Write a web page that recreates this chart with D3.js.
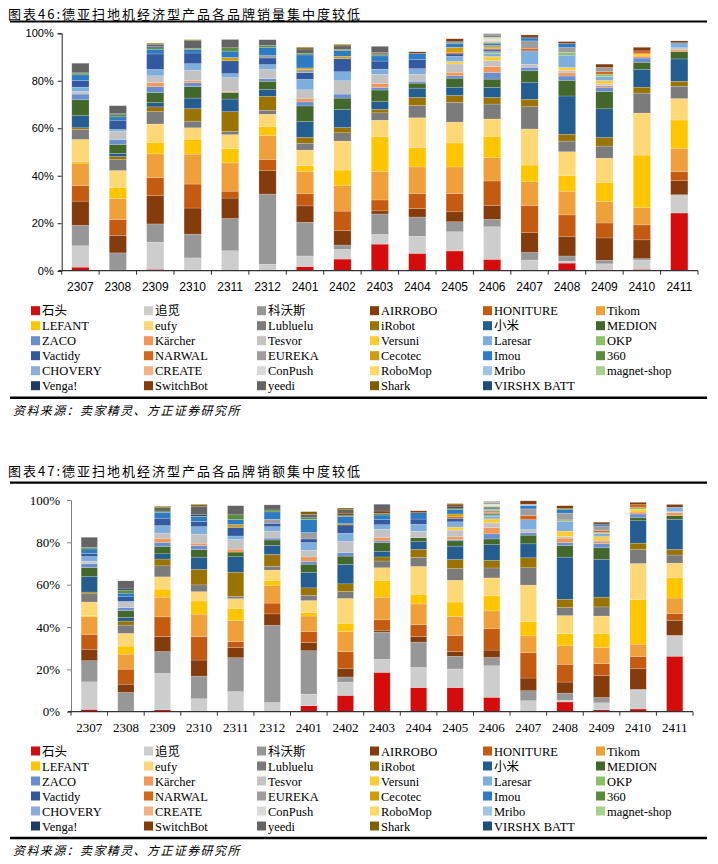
<!DOCTYPE html>
<html><head><meta charset="utf-8">
<script src="https://cdn.jsdelivr.net/npm/d3@7/dist/d3.min.js"></script>
<style>
html,body{margin:0;padding:0;background:#fff;}
svg{display:block;}
</style></head>
<body>
<svg id="c" width="718" height="864"></svg>
<script>
const categories = ["2307","2308","2309","2310","2311","2312","2401","2402","2403","2404","2405","2406","2407","2408","2409","2410","2411"];
const brands = ["石头","追觅","科沃斯","AIRROBO","HONITURE","Tikom","LEFANT","eufy","Lubluelu","iRobot","小米","MEDION","ZACO","Kärcher","Tesvor","Versuni","Laresar","OKP","Vactidy","NARWAL","EUREKA","Cecotec","Imou","360","CHOVERY","CREATE","ConPush","RoboMop","Mribo","magnet-shop","Venga!","SwitchBot","yeedi","Shark","VIRSHX BATT"];
const colors = ["#d40c0c","#cdcdcd","#979797","#843c0c","#c55a11","#f0a03a","#ffc600","#ffd876","#7b7b7b","#9a7300","#245d90","#43682b","#6a8fd0","#f1975a","#c3c3c3","#ffcd33","#7daedd","#8cc168","#335aa1","#d5651a","#9e9e9e","#cf9d08","#2e7bc4","#5a8c3c","#8faadc","#f4b183","#d9d9d9","#ffd966","#9dc3e6","#a9d18e","#203864","#843c0c","#646464","#7f6000","#1f4e79"];
const yTicks = [0,20,40,60,80,100];

// 销量 share (%) per month, in brand order
const vol2307 = [1.5,9.0,8.6,10.2,6.6,9.4,0.7,9.3,4.2,0.7,5.1,6.7,2.4,0,1.1,0,1.8,0,2.8,0,0,0,2.4,0.7,0,0,0,0,0,0,0.4,0,3.8,0,0];
const vol2308 = [0.3,0,7.2,7.4,6.7,8.8,4.6,7.2,4.6,1.3,1.3,3.8,2.1,0,3.5,0,0.7,0,3.9,0,0,0,1.4,1.0,0,0,0,0,0,0,0.5,0,3.2,0,0];
const vol2309 = [0.6,11.4,7.7,11.9,7.6,10.0,4.9,7.7,5.2,2.0,1.8,4.2,2.5,1.7,2.9,0,2.7,0,6.5,0,0,0,2.0,0.6,0,0,0,0,0,0,0.5,0,1.0,0.4,0];
const vol2310 = [0.3,5.1,10.0,11.0,10.1,12.6,6.3,4.8,2.8,5.3,4.4,4.8,1.7,0.8,4.5,0,2.7,0,4.5,0,0,0,1.4,0.6,0,0,0,0,0,0,0,0,3.2,0.4,0];
const vol2311 = [0,8.4,13.6,8.6,2.9,11.9,6.0,5.9,1.3,8.4,5.3,2.8,0,0.4,5.8,0,1.7,0,5.4,0,0,1.4,2.7,1.4,0,0,0,0,0,0,0,0,3.5,0,0];
const vol2312 = [0,2.7,29.6,9.8,4.8,10.1,3.6,5.3,1.7,5.9,2.8,3.5,1.1,0,3.8,0,2.1,0,2.8,0,1.0,0,3.5,0.8,0,0,0,0,0,0,0,0,2.4,0,0];
const vol2401 = [1.7,4.5,14.2,6.9,5.1,9.3,2.5,6.6,2.9,2.5,6.6,6.6,1.7,1.3,3.8,0,4.4,0,2.8,0,1.3,0.7,5.5,0.7,0,0,0,0,0,0,0,0,1.8,0.7,0];
const vol2402 = [4.9,4.1,1.8,6.2,8.1,10.7,6.6,12.2,3.5,2.2,7.6,4.8,1.7,0,5.6,0,3.8,0,5.5,0,0,1.0,2.4,0.5,0,0,0,0,0,0,0,0,1.5,0.6,0];
const vol2403 = [11.2,4.1,8.6,1.3,4.6,12.1,14.5,7.0,3.1,1.5,3.2,4.9,1.1,1.7,3.8,0,2.2,0,3.4,0,0,0,2.2,0.6,0,0,0,0,0,0,0.5,0.4,2.5,0,0];
const vol2404 = [7.3,7.2,8.1,3.6,6.3,11.2,8.1,12.6,5.2,3.4,3.9,2.1,0.8,0,2.9,0,2.4,0,3.8,0,0,0,2.7,0,0,0,0,0,0,0,0,0.6,0,0,0];
const vol2405 = [8.3,8.1,4.2,4.2,7.7,11.2,10.1,8.8,8.3,2.9,3.5,3.8,1.0,1.5,3.5,1.0,2.2,0,1.0,0.7,0,2.1,1.7,0.4,0,0,0,0,0,0,0.4,1.1,0,0,0];
const vol2406 = [4.8,13.7,3.1,5.8,10.4,9.8,9.0,7.3,6.3,2.8,4.2,3.5,2.8,2.5,2.5,1.7,1.4,0.7,0.7,0.5,0.7,0.7,0.7,0.5,0.4,0.4,0.4,0.4,0.4,0.3,0.4,0.3,0.2,0.2,0.3];
const vol2407 = [0,4.5,3.2,8.3,11.5,10.0,7.0,15.2,9.4,3.1,7.2,4.8,1.5,0,1.3,0,5.6,0,0,1.1,3.1,0,1.2,0,0,0,0,0,0,0,0.4,0.9,0,0,0];
const vol2408 = [3.2,0.8,2.2,8.3,9.0,10.0,6.6,10.0,4.5,2.9,16.1,6.6,1.8,1.3,1.0,1.3,5.2,1.1,0,0,2.1,0,1.7,0,0,0,0,0,0,0,0,0.8,0,0,0];
const vol2409 = [0.5,2.4,1.5,9.4,6.3,9.1,8.0,10.2,5.1,3.6,12.1,7.3,1.8,0.7,0.7,1.4,1.7,1.0,0,1.0,1.8,0,0,0,0,0,0,0,0,0,0,1.4,0,0,0];
const vol2410 = [0.6,3.9,0.6,7.9,6.3,7.2,22.2,17.7,8.4,2.5,7.4,3.1,1.8,0.8,0,1.0,0,0,0,1.2,0,0,0,0,0,0,0,0,0,0,0,1.5,0,0,0];
const vol2411 = [24.3,7.4,0.3,5.9,3.9,9.8,11.9,9.0,5.2,2.1,9.4,3.1,0,0.8,0.8,0,2.1,0,0,0,0,0,0,0,0,0,0,0,0,0,0,0.8,0,0,0];

// 销额 share (%) per month, in brand order
const sal2307 = [1.1,13.0,10.0,5.4,7.0,8.4,0.6,6.3,3.9,0.8,7.3,4.3,1.9,0,1.1,0,2.2,0,1.4,0,0,0,2.2,0.8,0,0,0,0,0,0,0,0,4.7,0,0];
const sal2308 = [0.3,0,8.8,3.9,7.1,7.1,3.8,6.0,3.9,1.9,1.7,3.2,1.4,0,3.0,0,0,0,2.2,0,0,0,1.7,1.4,0,0,0,0,0,0,0.6,0,3.8,0,0];
const sal2309 = [0.9,17.2,10.3,7.1,9.3,9.3,3.8,5.8,5.2,3.2,2.5,3.5,1.9,1.9,2.5,0,3.5,0,3.5,0,0,0,2.8,0.6,0,0,0,0,0,0,0,0,1.6,0.6,0];
const sal2310 = [0.3,5.8,10.7,7.6,11.1,10.6,6.2,4.4,3.2,7.3,5.8,3.6,1.9,1.1,4.3,0,3.5,0,2.5,0,0,0,2.2,0.3,0,0,0,0,0,0,0.6,0,4.1,0.8,0];
const sal2311 = [0,9.5,16.0,4.9,2.8,9.8,5.8,4.6,1.1,11.4,7.3,2.2,0,1.4,4.6,0,1.6,0,4.1,0,0,1.3,2.4,2.2,0,0,0,0,0,0,0,0,4.3,0,0];
const sal2312 = [0,4.3,36.5,5.4,5.1,8.2,2.5,4.9,1.7,5.7,4.3,2.5,0.9,0,3.3,0,2.1,0,1.6,0,1.9,0,3.5,0.9,0,0,0,0,0,0,0,0,2.4,0,0];
const sal2401 = [2.8,5.5,20.5,3.9,5.2,7.3,1.6,5.7,2.5,3.5,7.3,3.9,1.3,2.1,3.2,0,3.6,0,1.7,0,3.0,0,6.2,0.8,0,0,0,0,0,0,0,0,1.6,1.3,0];
const sal2402 = [7.7,6.3,2.4,4.1,7.9,9.6,3.8,11.7,3.3,3.6,9.2,3.9,1.7,0,5.2,0,3.9,0,3.9,0,0,0.6,3.5,0.6,0,0,0,0,0,0,0,0.9,1.6,0.8,0];
const sal2403 = [18.6,6.2,12.8,0.9,4.9,10.7,7.9,6.0,3.2,1.9,2.7,4.1,0.8,1.7,3.8,0,2.1,0,2.4,0,0,0,2.2,0.8,0,0,0,0,0,0,0,1.1,3.2,0,0];
const sal2404 = [11.4,9.5,12.0,2.7,5.5,9.8,4.6,13.1,4.3,3.8,3.6,1.9,0,0,3.0,0,3.3,0,2.5,0,0,0,3.0,0,0,0,0,0,0,0,0,0.9,0,0,0];
const sal2405 = [11.4,8.8,6.0,2.2,7.6,9.0,6.8,10.3,5.5,4.3,6.3,2.5,0.6,1.3,3.2,1.4,2.5,0,1.6,0.8,0,1.3,2.2,0.6,0,0,0,0,0,0,0.6,0.9,0,0.6,0];
const sal2406 = [6.8,14.9,3.9,3.5,10.1,8.4,7.1,8.5,4.7,3.6,7.4,2.7,2.4,3.0,2.2,1.9,1.3,0.6,0.6,0.6,0.8,0.6,0.6,0.5,0.3,0.3,0.3,0.2,0.2,0.2,0.3,0.2,0.2,0.2,0.2];
const sal2407 = [0,5.2,4.7,6.0,12.0,7.9,6.8,17.2,8.2,4.7,6.6,4.1,1.3,0,1.3,0,4.7,0,0,1.9,3.2,0,1.6,0,0,0,0,0,0.6,0,0,1.6,0,0,0];
const sal2408 = [4.6,0.9,3.3,5.2,8.4,8.7,5.8,8.5,3.8,3.9,19.9,5.5,1.4,2.1,0.8,2.5,4.7,0.6,0,0,3.2,0,1.6,0.6,0,0,0,0,0,0,0,1.3,0,0,0];
const sal2409 = [0.9,3.3,2.5,10.3,5.7,7.7,6.6,8.2,4.3,4.6,17.9,5.4,2.1,1.1,0.5,1.6,1.4,0.6,0,0.9,2.1,0,0.9,0,0,0,0,0,0,0,0,0.9,0,0,0];
const sal2410 = [1.3,9.0,0.3,9.8,5.7,5.8,21.0,17.1,6.6,3.0,10.6,1.6,1.6,0.9,0,1.3,0,0.8,0,1.4,0,0,0,0,0,0,0,0,0,0,0,1.1,0,0,0];
const sal2411 = [26.2,9.6,0.3,7.1,3.2,7.3,9.5,7.0,3.8,2.7,14.2,1.7,0,1.4,0.5,0,2.1,0,0,0,0,0,0,0,0,0,0,0,0,0,0,1.3,0,0,0];

const volRows = [vol2307,vol2308,vol2309,vol2310,vol2311,vol2312,vol2401,vol2402,vol2403,vol2404,vol2405,vol2406,vol2407,vol2408,vol2409,vol2410,vol2411];
const salRows = [sal2307,sal2308,sal2309,sal2310,sal2311,sal2312,sal2401,sal2402,sal2403,sal2404,sal2405,sal2406,sal2407,sal2408,sal2409,sal2410,sal2411];

const svg = d3.select("#c");
const CJK = "'Noto Sans CJK SC', sans-serif";
const SERIF = "'Liberation Serif', 'Noto Sans CJK SC', serif";
const SANS = "'Liberation Sans', Arial, sans-serif";

function toTable(rows){
  return rows.map((r,i)=>{const o={cat:categories[i]}; brands.forEach((b,j)=>o[b]=r[j]); return o;});
}

function drawChart(cfg){
  const g = svg.append("g");
  // title
  g.append("text").attr("x",8).attr("y",cfg.titleY).attr("dominant-baseline","central")
    .style("font-family",CJK).style("font-size","13px").style("letter-spacing","2px").attr("fill","#000").text(cfg.title);
  g.append("line").attr("x1",10).attr("x2",707).attr("y1",cfg.titleLineY).attr("y2",cfg.titleLineY)
    .attr("stroke","#000").attr("stroke-width",2.2);

  const x = d3.scaleBand().domain(categories).range([cfg.x0,cfg.x1]).paddingInner(cfg.pad).paddingOuter(cfg.pad/2);
  const y = d3.scaleLinear().domain([0,100]).range([cfg.y0,cfg.y1]);
  const stack = d3.stack().keys(brands)(toTable(cfg.rows));

  const layers = g.append("g").selectAll("g").data(stack).join("g").attr("fill",(d,i)=>colors[i]);
  layers.selectAll("rect").data(d=>d).join("rect")
    .attr("x",d=>x(d.data.cat)).attr("width",x.bandwidth())
    .attr("y",d=>y(d[1])).attr("height",d=>Math.max(0,y(d[0])-y(d[1])))
    .attr("stroke","#ffffff").attr("stroke-opacity",0.35).attr("stroke-width",0.5);

  // y axis
  const ya = g.append("g").attr("transform",`translate(${cfg.x0},0)`)
    .call(d3.axisLeft(y).tickValues(yTicks).tickFormat(d=>d+"%").tickSize(4).tickPadding(cfg.yPad));
  ya.select(".domain").attr("stroke",cfg.yAxisColor);
  ya.selectAll(".tick line").attr("stroke",cfg.yAxisColor);
  ya.selectAll("text").style("font-family",cfg.axisFont).style("font-size",cfg.yFont).attr("fill","#000");

  // x axis
  const xa = g.append("g").attr("transform",`translate(0,${cfg.y0})`);
  xa.append("line").attr("x1",cfg.x0-3).attr("x2",cfg.x1).attr("y1",0).attr("y2",0).attr("stroke","#333").attr("stroke-width",1.2);
  const step = x.step();
  xa.selectAll("line.tk").data(d3.range(categories.length+1)).join("line").attr("class","tk")
    .attr("x1",i=>cfg.x0+i*step).attr("x2",i=>cfg.x0+i*step).attr("y1",0).attr("y2",4).attr("stroke","#333");
  xa.selectAll("text").data(categories).join("text")
    .attr("x",d=>x(d)+x.bandwidth()/2).attr("y",cfg.xLabelDy).attr("text-anchor","middle").attr("dominant-baseline","central")
    .style("font-family",cfg.axisFont).style("font-size",cfg.xFont).attr("fill","#000").text(d=>d);

  // legend
  const lg = g.append("g");
  brands.forEach((b,i)=>{
    const col = i%6, row = Math.floor(i/6);
    const lx = 31 + col*113, ly = cfg.legY + row*15;
    lg.append("rect").attr("x",lx).attr("y",ly-4.5).attr("width",9).attr("height",9).attr("fill",colors[i]);
    lg.append("text").attr("x",lx+11).attr("y",ly+0.5).attr("dominant-baseline","central")
      .style("font-family",SERIF).style("font-size","12.5px").attr("fill","#000").text(b);
  });
  g.append("line").attr("x1",10).attr("x2",707).attr("y1",cfg.footLineY).attr("y2",cfg.footLineY)
    .attr("stroke","#000").attr("stroke-width",2.6);
  g.append("text").attr("x",13).attr("y",cfg.footLineY+11.5).attr("dominant-baseline","central")
    .style("font-family",CJK).style("font-size","12px").style("font-style","italic").style("letter-spacing","1.4px").attr("fill","#000")
    .text("资料来源：卖家精灵、方正证券研究所");
}

drawChart({
  title:"图表46:德亚扫地机经济型产品各品牌销量集中度较低", titleY:13, titleLineY:21.5,
  rows:volRows, x0:61.7, x1:698, y0:270.7, y1:33.3, pad:0.54,
  yPad:4, yAxisColor:"#222", axisFont:SANS, yFont:"11px", xFont:"12px", xLabelDy:16.5,
  legY:310.7, footLineY:397.7
});
drawChart({
  title:"图表47:德亚扫地机经济型产品各品牌销额集中度较低", titleY:470, titleLineY:482.7,
  rows:salRows, x0:71, x1:693, y0:711.7, y1:500, pad:0.555,
  yPad:7, yAxisColor:"#808080", axisFont:SERIF, yFont:"13px", xFont:"13px", xLabelDy:15.5,
  legY:751, footLineY:838
});
</script>
</body></html>
